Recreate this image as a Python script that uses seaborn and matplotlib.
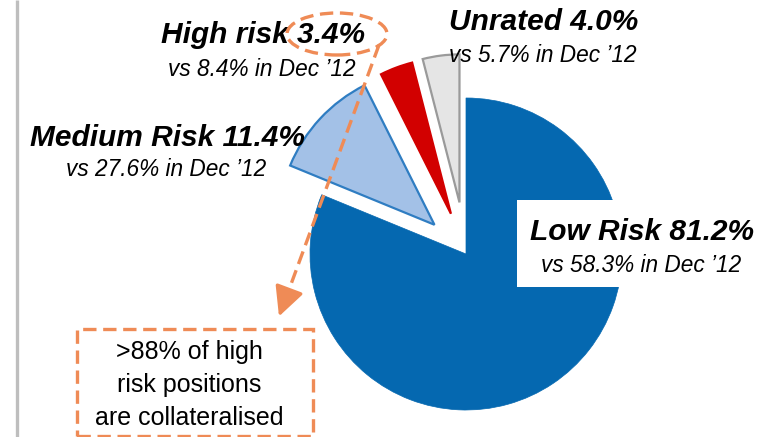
import matplotlib
matplotlib.use('Agg')
import matplotlib.pyplot as plt
import matplotlib.patches as mpatches
import seaborn as sns

# --- données ---
segments = ['Low Risk', 'Medium Risk', 'High risk', 'Unrated']
share_now = [81.2, 11.4, 3.4, 4.0]
share_dec12 = [58.3, 27.6, 8.4, 5.7]
note_text = '>88% of high\nrisk positions\nare collateralised'

# --- style ---
sns.set_style('white')
plt.rcParams['font.family'] = ['Liberation Sans', 'DejaVu Sans']
plt.rcParams['text.color'] = 'black'

couleurs = ['#0568B0', '#A3C1E7', '#D20000', '#E5E5E5']
bords = ['#0568B0', '#2F7DC2', '#D20000', '#9A9A9A']
orange = '#EF8B56'

W, H = 776, 437
def Y(y):
    # coordonnées image -> coordonnées axe (y vers le haut)
    return H - y

fig = plt.figure(figsize=(W / 100, H / 100), dpi=100)
ax = fig.add_axes([0, 0, 1, 1])

# explode en unités de l'axe (pixels ici)
wedges, _ = ax.pie(share_now, startangle=90, counterclock=False,
                   explode=[0, 43, 43, 52],
                   center=(466, Y(254)), radius=156,
                   colors=couleurs,
                   wedgeprops=dict(linewidth=1.6))
for w, ec in zip(wedges, bords):
    w.set_edgecolor(ec)
wedges[0].set_linewidth(0.5)
wedges[3].set_radius(148)

ax.set_xlim(0, W)
ax.set_ylim(0, H)
ax.set_aspect('equal')
ax.axis('off')

# barre grise à gauche
ax.plot([16.5, 16.5], [0, H], color='#BEBEBE', lw=2.4, solid_capstyle='butt')

# --- étiquettes ---
positions = {
    'Low Risk': ((642, 232), (641, 265)),
    'Medium Risk': ((167, 138), (166, 170)),
    'High risk': ((263, 35), (262, 70)),
    'Unrated': ((544, 22), (543, 55)),
}

# fond blanc derrière l'étiquette Low Risk
ax.add_patch(mpatches.Rectangle((517, Y(287)), 260, 87, facecolor='white',
                                edgecolor='none', zorder=3))

for nom, val, old in zip(segments, share_now, share_dec12):
    (tx, ty), (sx, sy) = positions[nom]
    ax.text(tx, Y(ty), f'{nom} {val:.1f}%', ha='center', va='center',
            fontsize=21.5, fontweight='bold', fontstyle='italic', zorder=4)
    ax.text(sx, Y(sy), f'vs {old:.1f}% in Dec \u201912', ha='center', va='center',
            fontsize=16.3, fontstyle='italic', zorder=4)

# --- annotation orange ---
ax.add_patch(mpatches.Ellipse((337, Y(34)), 100, 42, fill=False, edgecolor=orange,
                              lw=2.4, ls=(0, (4, 2)), zorder=5))
ax.plot([379, 283], [Y(45), Y(306)], color=orange, lw=2.4, ls=(0, (4, 2)), zorder=5)
ax.annotate('', xy=(278, Y(319)), xytext=(284, Y(303)),
            arrowprops=dict(arrowstyle='-|>,head_length=0.9,head_width=0.45',
                            color=orange, lw=2.4, mutation_scale=20), zorder=5)

ax.add_patch(mpatches.Rectangle((77, Y(436)), 236, 107, fill=False, edgecolor=orange,
                                lw=2.4, ls=(0, (4, 2)), zorder=5))
ax.text(189, Y(385), note_text, ha='center', va='center', fontsize=18,
        linespacing=1.45, zorder=6)

plt.savefig('out.png', dpi=100)
